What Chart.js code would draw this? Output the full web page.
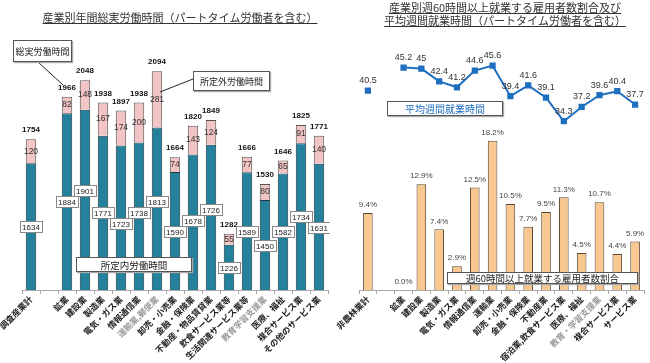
<!DOCTYPE html>
<html>
<head>
<meta charset="utf-8">
<script src="https://cdn.jsdelivr.net/npm/chart.js@4.4.1/dist/chart.umd.min.js"></script>
<style>
  body { margin: 0; background: #fff; font-family: "Noto Sans CJK JP", sans-serif; }
  #wrap { position: relative; width: 650px; height: 363px; overflow: hidden; }
  canvas { position: absolute; top: 0; }
  .title { position: absolute; color: #333; font-size: 11px; text-decoration: underline; white-space: nowrap; text-align: center; line-height: 13px; }
  .box { position: absolute; background: #fff; border: 1px solid #555; box-shadow: 1px 1px 1px #aaa;
         font-size: 9px; color: #222; display: flex; align-items: center; justify-content: center; white-space: nowrap; box-sizing: border-box; }
  svg { position: absolute; left: 0; top: 0; }
</style>
</head>
<body>
<div id="wrap">
  <canvas id="hours" width="330" height="363" style="left:0"></canvas>
  <canvas id="ratio" width="320" height="363" style="left:330px"></canvas>
  <svg width="650" height="363">
    <line x1="38" y1="62" x2="63" y2="85" stroke="#222" stroke-width="1"/>
    <line x1="193" y1="79" x2="160" y2="92" stroke="#222" stroke-width="1"/>
  </svg>
  <div class="title" style="left:40px;top:11px;width:280px;">産業別年間総実労働時間（パートタイム労働者を含む）</div>
  <div class="title" style="left:370px;top:1px;width:270px;">産業別週60時間以上就業する雇用者数割合及び<br>平均週間就業時間（パートタイム労働者を含む）</div>
  <div class="box" style="left:13px;top:40px;width:59px;height:22px;">総実労働時間</div>
  <div class="box" style="left:193px;top:71px;width:77px;height:20px;">所定外労働時間</div>
  <div class="box" style="left:76px;top:257px;width:116px;height:15px;font-size:9.5px;">所定内労働時間</div>
  <div class="box" style="left:387px;top:101px;width:116px;height:15px;font-size:10px;color:#1f6fc0;">平均週間就業時間</div>
  <div class="box" style="left:447px;top:272px;width:191px;height:12px;font-size:9.5px;">週60時間以上就業する雇用者数割合</div>
</div>
<script>
// 年間総実労働時間
var hourLabels = ["調査産業計", "", "鉱業", "建設業", "製造業", "電気・ガス業", "情報通信業", "運輸業,郵便業",
  "卸売・小売業", "金融・保険業", "不動産・物品賃貸業", "飲食サービス業等", "生活関連サービス業等",
  "教育学習支援業", "医療、福祉", "複合サービス業", "その他のサービス業"];
var scheduled = [1634, null, 1884, 1901, 1771, 1723, 1738, 1813, 1590, 1678, 1726, 1226, 1589, 1450, 1582, 1734, 1631];
var overtime  = [120, null, 82, 148, 167, 174, 200, 281, 74, 143, 124, 55, 77, 80, 65, 91, 140];
var totals    = [1754, null, 1966, 2048, 1938, 1897, 1938, 2094, 1664, 1820, 1849, 1282, 1666, 1530, 1646, 1825, 1771];

// 週60時間以上の割合と平均週間就業時間
var ratioLabels = ["非農林業計", "", "鉱業", "建設業", "製造業", "電気・ガス業", "情報通信業", "運輸業",
  "卸売・小売業", "金融・保険業", "不動産業", "宿泊業,飲食サービス業", "医療、福祉",
  "教育・学習支援業", "複合サービス業", "サービス業"];
var over60 = [9.4, null, 0.0, 12.9, 7.4, 2.9, 12.5, 18.2, 10.5, 7.7, 9.5, 11.3, 4.5, 10.7, 4.4, 5.9];
var weeklyHours = [40.5, null, 45.2, 45, 42.4, 41.2, 44.6, 45.6, 39.4, 41.6, 39.1, 34.3, 37.2, 39.6, 40.4, 37.7];

var jpFont = '"Noto Sans CJK JP", sans-serif';

function fixAxisHeight(scale) { scale.height = 73; }

var hoursLabelPlugin = {
  id: 'hoursLabels',
  afterDatasetsDraw: function(chart) {
    var ctx = chart.ctx;
    var bottom = chart.chartArea.bottom;
    var m0 = chart.getDatasetMeta(0), m1 = chart.getDatasetMeta(1);
    var prevY = null;
    ctx.save();
    ctx.textAlign = 'center';
    ctx.textBaseline = 'middle';
    m0.data.forEach(function(el, i) {
      if (scheduled[i] == null) { prevY = null; return; }
      var top = m1.data[i];
      // overtime value in the pink part
      ctx.font = '8.5px "Liberation Sans", sans-serif';
      ctx.fillStyle = '#333';
      ctx.fillText(overtime[i], el.x, (top.y + top.base) / 2);
      // total on top
      ctx.font = 'bold 8px "Liberation Sans", sans-serif';
      ctx.fillStyle = '#111';
      ctx.fillText(totals[i], el.x, top.y - 9);
      // scheduled value in a white box, nudged away from the previous box
      var cy = (el.y + Math.min(el.base, bottom)) / 2;
      if (prevY !== null && Math.abs(cy - prevY) < 11) {
        cy = cy <= prevY ? prevY - 11 : prevY + 11;
      }
      prevY = cy;
      ctx.font = '8px "Liberation Sans", sans-serif';
      var w = Math.round(ctx.measureText(String(scheduled[i])).width + 4);
      var bx = Math.round(el.x - w / 2) + 0.5, by = Math.round(cy - 5.5) + 0.5;
      ctx.fillStyle = '#fff';
      ctx.fillRect(bx, by, w, 11);
      ctx.strokeStyle = '#888';
      ctx.lineWidth = 1;
      ctx.strokeRect(bx, by, w, 11);
      ctx.fillStyle = '#222';
      ctx.fillText(scheduled[i], el.x, by + 6);
    });
    ctx.restore();
  }
};

var ratioLabelPlugin = {
  id: 'ratioLabels',
  afterDatasetsDraw: function(chart) {
    var ctx = chart.ctx;
    ctx.save();
    ctx.textAlign = 'center';
    ctx.textBaseline = 'middle';
    chart.getDatasetMeta(1).data.forEach(function(el, i) {
      if (over60[i] == null) return;
      ctx.font = '8px "Liberation Sans", sans-serif';
      ctx.fillStyle = '#444';
      ctx.fillText(over60[i].toFixed(1) + '%', el.x, el.y - 8);
    });
    chart.getDatasetMeta(0).data.forEach(function(el, i) {
      if (weeklyHours[i] == null) return;
      ctx.font = '9px "Liberation Sans", sans-serif';
      ctx.fillStyle = '#333';
      ctx.fillText(weeklyHours[i], el.x, el.y - 10);
    });
    ctx.restore();
  }
};

function xAxis(greyIndex) {
  return {
    afterFit: fixAxisHeight,
    grid: { display: true, drawOnChartArea: false, offset: true, tickLength: 4, color: '#aaa' },
    border: { display: true, color: '#aaa' },
    ticks: {
      autoSkip: false, minRotation: 45, maxRotation: 45, padding: 0,
      font: { family: jpFont, size: 8.5, weight: 'bold' },
      color: function(c) { return greyIndex.indexOf(c.index) >= 0 ? '#999' : '#222'; }
    }
  };
}

new Chart(document.getElementById('hours'), {
  type: 'bar',
  data: {
    labels: hourLabels,
    datasets: [
      { label: '所定内労働時間', data: scheduled, backgroundColor: '#23819c', borderColor: '#1e3a44', borderWidth: 1, barPercentage: 0.58, categoryPercentage: 1 },
      { label: '所定外労働時間', data: overtime, backgroundColor: '#f2c4c4', borderColor: '#555', borderWidth: 1, barPercentage: 0.58, categoryPercentage: 1 }
    ]
  },
  options: {
    responsive: false,
    animation: false,
    layout: { padding: { left: 22, right: 2, top: 50, bottom: 0 } },
    plugins: { legend: { display: false }, tooltip: { enabled: false } },
    scales: {
      x: Object.assign(xAxis([7, 13]), { stacked: true }),
      y: { display: false, stacked: true, min: 1000, max: 2200 }
    }
  },
  plugins: [hoursLabelPlugin]
});

new Chart(document.getElementById('ratio'), {
  type: 'bar',
  data: {
    labels: ratioLabels,
    datasets: [
      { type: 'line', label: '平均週間就業時間', data: weeklyHours, yAxisID: 'y1', borderColor: '#1f6fc0', backgroundColor: '#1f6fc0',
        borderWidth: 2, pointStyle: 'rect', pointRadius: 3, spanGaps: false, order: 0 },
      { label: '週60時間以上就業する雇用者数割合', data: over60, yAxisID: 'y', backgroundColor: '#f8c890', borderColor: '#5a4630', borderWidth: 1,
        barPercentage: 0.54, categoryPercentage: 1, order: 1 }
    ]
  },
  options: {
    responsive: false,
    animation: false,
    layout: { padding: { left: 29, right: 1, top: 44, bottom: 0 } },
    plugins: { legend: { display: false }, tooltip: { enabled: false } },
    scales: {
      x: xAxis([13]),
      y: { display: false, min: 0, max: 30 },
      y1: { display: false, min: 0, max: 50 }
    }
  },
  plugins: [ratioLabelPlugin]
});
</script>
</body>
</html>
